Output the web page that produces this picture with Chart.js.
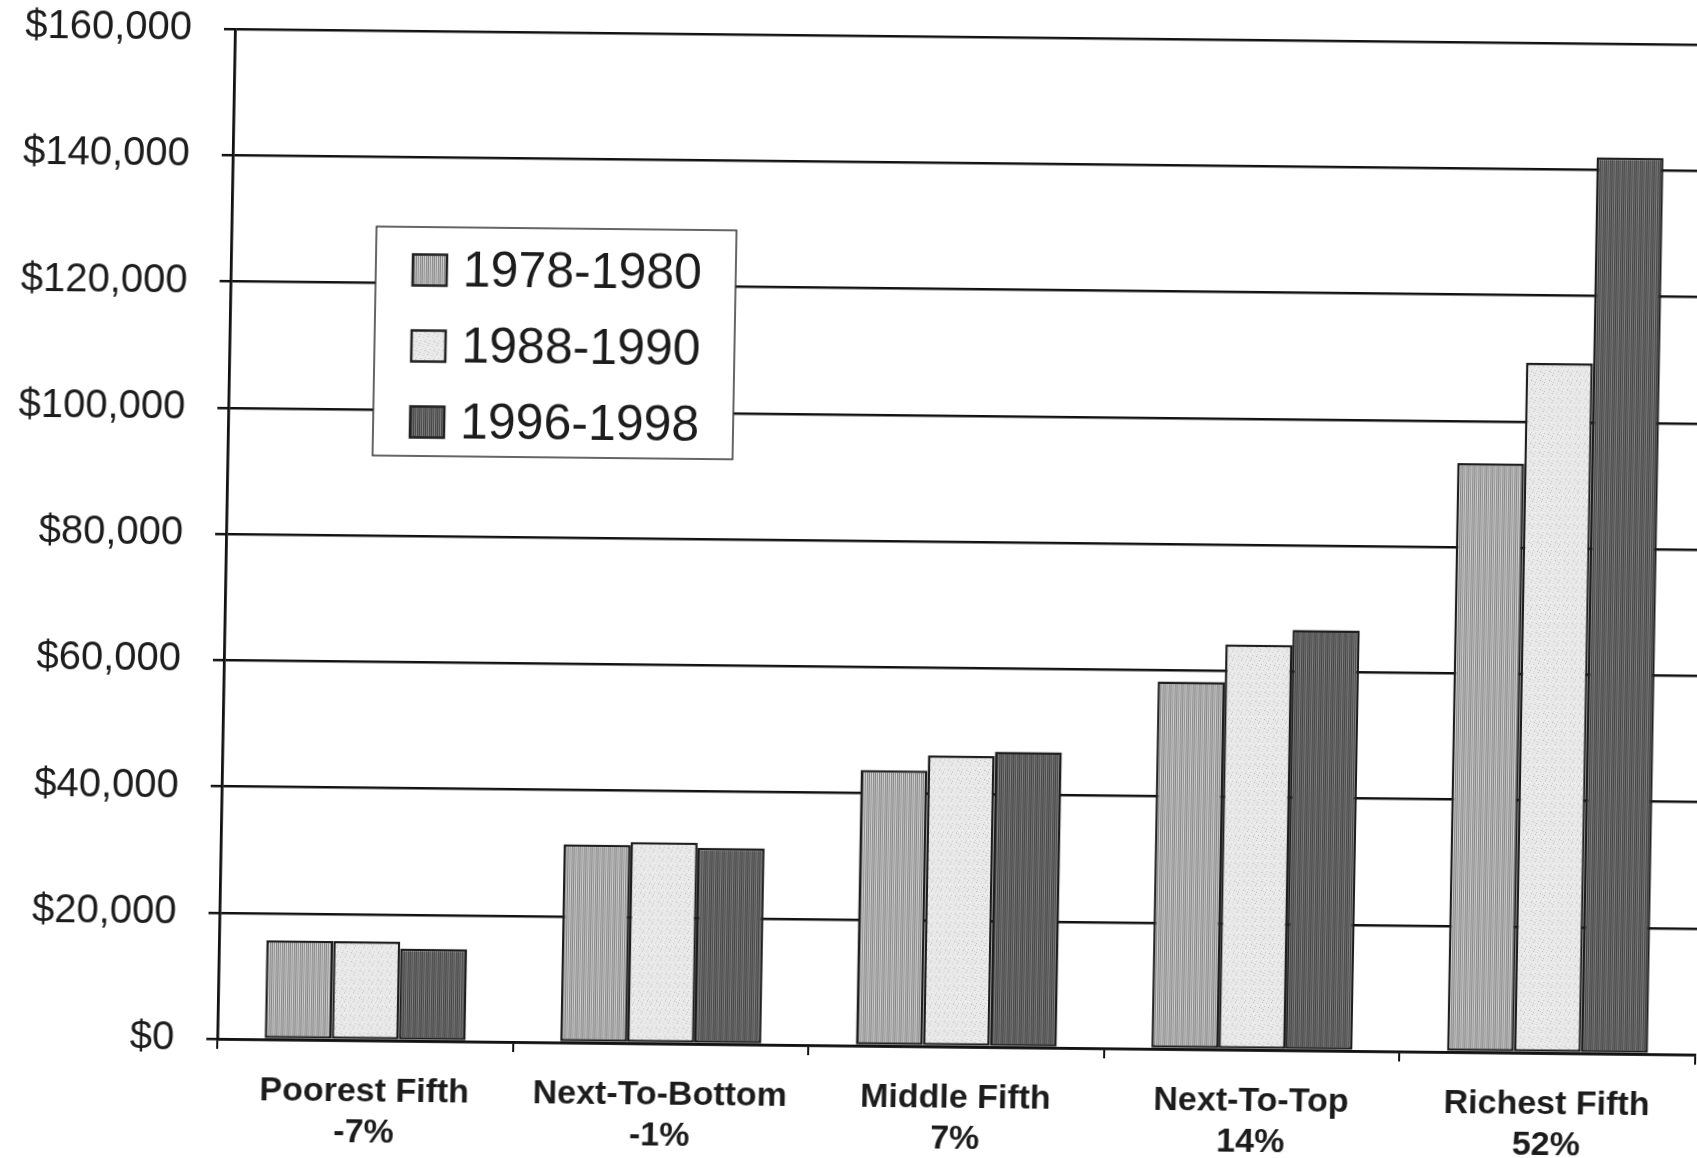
<!DOCTYPE html>
<html>
<head>
<meta charset="utf-8">
<script src="https://cdn.jsdelivr.net/npm/chart.js@4.4.1/dist/chart.umd.min.js"></script>
<style>
  html, body { margin: 0; padding: 0; background: #fff; overflow: hidden; }
  #wrap { position: relative; width: 1697px; height: 1158px; overflow: hidden; background: #fff; }
  #c { position: absolute; left: 0; top: -27px; transform: matrix(1, 0.0107, -0.0175, 1, 0, 0); transform-origin: 235px 56px; }
</style>
</head>
<body>
<div id="wrap"><canvas id="c" width="1740" height="1185"></canvas></div>
<script>
// Average family income by fifth of the income distribution
const categories = [
  ['Poorest Fifth', '-7%'],
  ['Next-To-Bottom', '-1%'],
  ['Middle Fifth', '7%'],
  ['Next-To-Top', '14%'],
  ['Richest Fifth', '52%']
];
const seriesNames = ['1978-1980', '1988-1990', '1996-1998'];
const income1978 = [15700, 31400, 43700, 58200, 93300];
const income1988 = [15700, 31900, 46100, 64200, 109300];
const income1996 = [14600, 31100, 46800, 66600, 142000];
const yMin = 0, yMax = 160000, yStep = 20000;

const canvas = document.getElementById('c');
const ctx = canvas.getContext('2d');

// Vertical-hatch fill, one colour per pixel column
function stripePattern(cols) {
  const p = document.createElement('canvas');
  p.width = cols.length; p.height = 1;
  const pc = p.getContext('2d');
  cols.forEach((col, i) => { pc.fillStyle = col; pc.fillRect(i, 0, 1, 1); });
  return ctx.createPattern(p, 'repeat');
}
// Light stipple fill with a fixed dot layout
function stipplePattern() {
  const p = document.createElement('canvas');
  p.width = 9; p.height = 9;
  const pc = p.getContext('2d');
  pc.fillStyle = '#e9e9e9'; pc.fillRect(0, 0, 9, 9);
  const dots = [[1,1,'#bcbcbc'],[5,2,'#cfcfcf'],[7,6,'#b6b6b6'],[3,5,'#c8c8c8'],[0,7,'#d3d3d3'],[6,0,'#d9d9d9'],[2,8,'#c0c0c0'],[8,4,'#d0d0d0'],[4,3,'#f4f4f4'],[1,4,'#f6f6f6']];
  dots.forEach(([x, y, col]) => { pc.fillStyle = col; pc.fillRect(x, y, 1, 1); });
  return ctx.createPattern(p, 'repeat');
}

const fills = [
  stripePattern(['#848484', '#c8c8c8', '#919191', '#d2d2d2', '#8a8a8a', '#bcbcbc']),
  stipplePattern(),
  stripePattern(['#444444', '#747474', '#4d4d4d', '#828282', '#484848', '#6e6e6e'])
];

const boxLegend = {
  id: 'boxLegend',
  afterDatasetsDraw(chart, args, opts) {
    const c = chart.ctx, a = chart.chartArea;
    const x0 = a.left + opts.dx, y0 = a.top + opts.dy;
    c.save();
    c.fillStyle = '#ffffff';
    c.fillRect(x0, y0, opts.w, opts.h);
    c.strokeStyle = '#333333';
    c.lineWidth = 1.5;
    c.strokeRect(x0, y0, opts.w, opts.h);
    c.font = '50px "Liberation Sans", Arial, sans-serif';
    c.textBaseline = 'middle';
    c.textAlign = 'left';
    chart.data.datasets.forEach((ds, i) => {
      const cy = y0 + opts.firstRow + i * opts.rowGap;
      c.fillStyle = ds.backgroundColor;
      c.fillRect(x0 + opts.swatchX, cy - opts.swatchH / 2, opts.swatchW, opts.swatchH);
      c.strokeStyle = '#222222';
      c.lineWidth = 2.5;
      c.strokeRect(x0 + opts.swatchX, cy - opts.swatchH / 2, opts.swatchW, opts.swatchH);
      c.fillStyle = '#1c1c1c';
      c.fillText(ds.label, x0 + opts.textX, cy + 2);
    });
    c.restore();
  }
};

const seriesValues = [income1978, income1988, income1996];

new Chart(canvas, {
  type: 'bar',
  data: {
    labels: categories,
    datasets: seriesNames.map((name, i) => ({
      label: name,
      data: seriesValues[i],
      backgroundColor: fills[i],
      borderColor: '#1e1e1e',
      borderWidth: 2.5,
      borderSkipped: false,
      categoryPercentage: 0.68,
      barPercentage: 1.0
    }))
  },
  options: {
    responsive: false,
    animation: false,
    devicePixelRatio: 1,
    layout: { padding: { top: 5.6, right: 27, left: 0, bottom: 0 } },
    plugins: {
      legend: { display: false },
      tooltip: { enabled: false },
      boxLegend: { dx: 145, dy: 196, w: 360, h: 229, firstRow: 43, rowGap: 76, swatchX: 37, swatchW: 34, swatchH: 31, textX: 87 }
    },
    scales: {
      x: {
        grid: { display: true, drawOnChartArea: false, drawTicks: true, tickLength: 10, offset: true, color: '#111111', lineWidth: 2 },
        border: { display: true, color: '#111111', width: 2.8 },
        ticks: {
          color: '#1c1c1c',
          padding: 21,
          maxRotation: 0,
          autoSkip: false,
          font: { family: '"Liberation Sans", Arial, sans-serif', size: 34, weight: 'bold', lineHeight: 1.2 }
        },
        afterFit(s) { s.height = 119; }
      },
      y: {
        min: yMin,
        max: yMax,
        grid: { color: '#111111', lineWidth: 2.5, tickLength: 11, drawTicks: true },
        border: { display: true, color: '#111111', width: 2.8 },
        ticks: {
          stepSize: yStep,
          color: '#1c1c1c',
          padding: 32,
          font: { family: '"Liberation Sans", Arial, sans-serif', size: 40 },
          callback: v => '$' + Number(v).toLocaleString('en-US')
        },
        afterFit(s) { s.width = 235; }
      }
    }
  },
  plugins: [boxLegend]
});
</script>
</body>
</html>
